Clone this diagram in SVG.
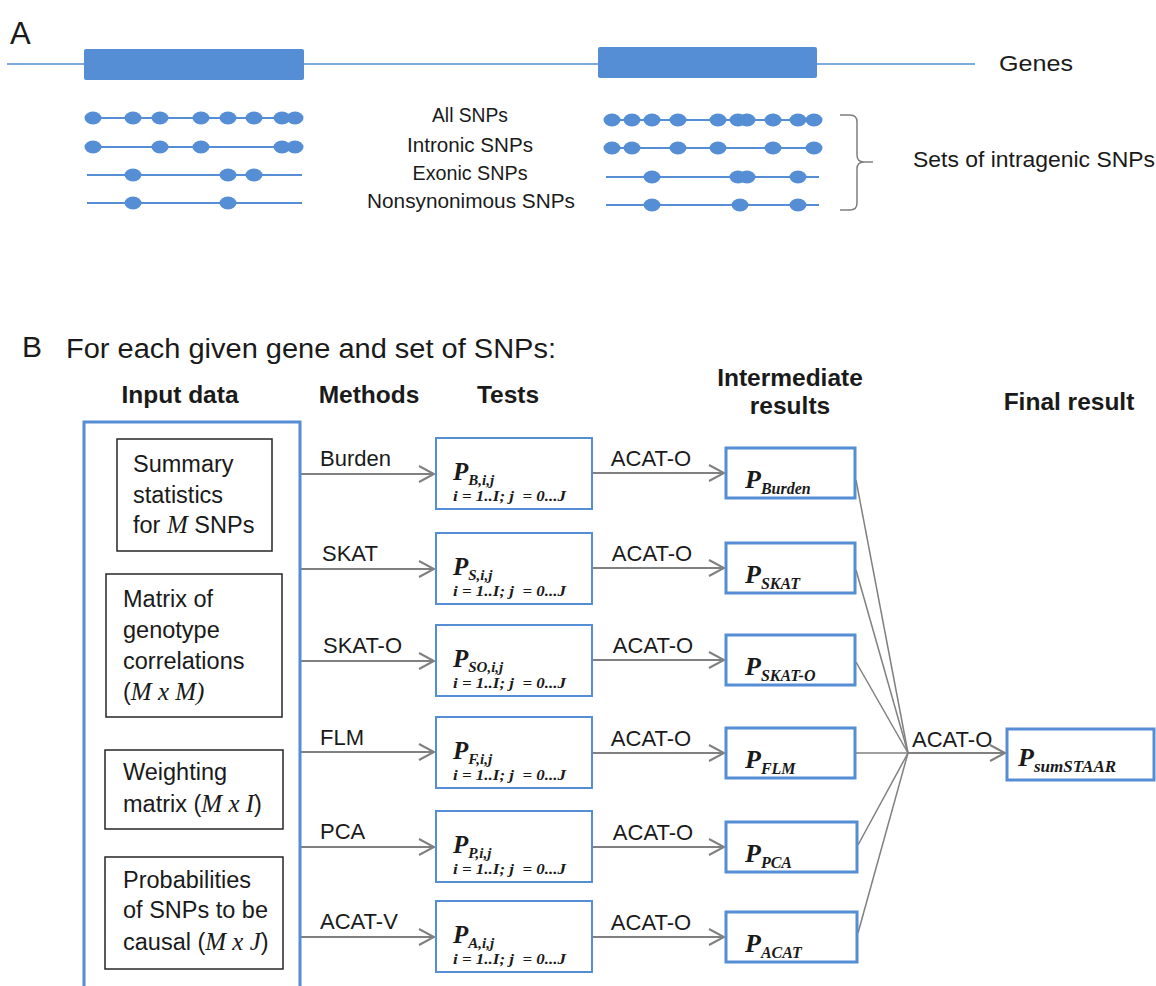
<svg xmlns="http://www.w3.org/2000/svg" width="1156" height="986" viewBox="0 0 1156 986">
<style>
.bg{fill:#ffffff}
.t{font-family:"Liberation Sans",Arial,sans-serif;fill:#1a1a1a}
.h{font-family:"Liberation Sans",Arial,sans-serif;font-weight:bold;fill:#1a1a1a;font-size:24.5px;text-anchor:middle}
.m{font-family:"Liberation Serif","Times New Roman",serif;font-style:italic}
.P{font-family:"Liberation Serif","Times New Roman",serif;font-weight:bold;font-style:italic;fill:#1a1a1a}
.blue{fill:#558ed5}
.snp{stroke:#558ed5;stroke-width:2;fill:none}
.gene{stroke:#558ed5;stroke-width:1.5;fill:none}
.ib{fill:#fff;stroke:#262626;stroke-width:1.5}
.tb{fill:#fff;stroke:#558ed5;stroke-width:2}
.rb{fill:#fff;stroke:#558ed5;stroke-width:3}
.arr{stroke:#808080;stroke-width:2;fill:none;marker-end:url(#ah)}
.cv{stroke:#808080;stroke-width:1.5;fill:none}
.lab{font-family:"Liberation Sans",Arial,sans-serif;fill:#1a1a1a;font-size:22px}
.pre{white-space:pre}
</style>
<defs>
<marker id="ah" markerUnits="userSpaceOnUse" markerWidth="20" markerHeight="20" refX="16" refY="9" orient="auto">
<path d="M1,1 L16,9 L1,17" fill="none" stroke="#808080" stroke-width="2"/>
</marker>
</defs>
<rect class="bg" x="0" y="0" width="1156" height="986"/>

<!-- Panel A -->
<g id="panelA">
<text class="t" x="10" y="44" font-size="31">A</text>
<g id="genes">
<line class="gene" x1="7" y1="64" x2="975" y2="64"/>
<rect class="blue" x="84" y="49" width="220" height="31" rx="2"/>
<rect class="blue" x="598" y="47" width="219" height="31" rx="2"/>
<text class="t" x="999" y="71" font-size="22" textLength="74" lengthAdjust="spacingAndGlyphs">Genes</text>
</g>
<g id="snps-left">
<line class="snp" x1="93" y1="118" x2="295" y2="118"/>
<line class="snp" x1="93" y1="147" x2="295" y2="147"/>
<line class="snp" x1="87" y1="175" x2="302" y2="175"/>
<line class="snp" x1="87" y1="203" x2="302" y2="203"/>
<g class="blue">
<ellipse cx="93" cy="118" rx="8.5" ry="6.5"/><ellipse cx="133" cy="118" rx="8.5" ry="6.5"/><ellipse cx="160" cy="118" rx="8.5" ry="6.5"/><ellipse cx="201" cy="118" rx="8.5" ry="6.5"/><ellipse cx="228" cy="118" rx="8.5" ry="6.5"/><ellipse cx="254" cy="118" rx="8.5" ry="6.5"/><ellipse cx="282" cy="118" rx="8.5" ry="6.5"/><ellipse cx="295" cy="118" rx="8.5" ry="6.5"/>
<ellipse cx="93" cy="147" rx="8.5" ry="6.5"/><ellipse cx="160" cy="147" rx="8.5" ry="6.5"/><ellipse cx="201" cy="147" rx="8.5" ry="6.5"/><ellipse cx="282" cy="147" rx="8.5" ry="6.5"/><ellipse cx="295" cy="147" rx="8.5" ry="6.5"/>
<ellipse cx="133" cy="175" rx="8.5" ry="6.5"/><ellipse cx="228" cy="175" rx="8.5" ry="6.5"/><ellipse cx="254" cy="175" rx="8.5" ry="6.5"/>
<ellipse cx="133" cy="203" rx="8.5" ry="6.5"/><ellipse cx="228" cy="203" rx="8.5" ry="6.5"/>
</g>
</g>
<g id="snp-labels" font-size="20">
<text class="t" x="470" y="122" text-anchor="middle" textLength="76" lengthAdjust="spacingAndGlyphs">All SNPs</text>
<text class="t" x="470" y="152" text-anchor="middle" textLength="126" lengthAdjust="spacingAndGlyphs">Intronic SNPs</text>
<text class="t" x="470" y="180" text-anchor="middle" textLength="115" lengthAdjust="spacingAndGlyphs">Exonic SNPs</text>
<text class="t" x="471" y="208" text-anchor="middle" textLength="208" lengthAdjust="spacingAndGlyphs">Nonsynonimous SNPs</text>
</g>
<g id="snps-right">
<line class="snp" x1="612" y1="120" x2="814" y2="120"/>
<line class="snp" x1="612" y1="148" x2="814" y2="148"/>
<line class="snp" x1="606" y1="177" x2="819" y2="177"/>
<line class="snp" x1="606" y1="205" x2="819" y2="205"/>
<g class="blue">
<ellipse cx="612" cy="120" rx="8.5" ry="6.5"/><ellipse cx="632" cy="120" rx="8.5" ry="6.5"/><ellipse cx="652" cy="120" rx="8.5" ry="6.5"/><ellipse cx="678" cy="120" rx="8.5" ry="6.5"/><ellipse cx="718" cy="120" rx="8.5" ry="6.5"/><ellipse cx="738" cy="120" rx="8.5" ry="6.5"/><ellipse cx="747" cy="120" rx="8.5" ry="6.5"/><ellipse cx="773" cy="120" rx="8.5" ry="6.5"/><ellipse cx="798" cy="120" rx="8.5" ry="6.5"/><ellipse cx="814" cy="120" rx="8.5" ry="6.5"/>
<ellipse cx="612" cy="148" rx="8.5" ry="6.5"/><ellipse cx="632" cy="148" rx="8.5" ry="6.5"/><ellipse cx="678" cy="148" rx="8.5" ry="6.5"/><ellipse cx="718" cy="148" rx="8.5" ry="6.5"/><ellipse cx="773" cy="148" rx="8.5" ry="6.5"/><ellipse cx="814" cy="148" rx="8.5" ry="6.5"/>
<ellipse cx="652" cy="177" rx="8.5" ry="6.5"/><ellipse cx="738" cy="177" rx="8.5" ry="6.5"/><ellipse cx="747" cy="177" rx="8.5" ry="6.5"/><ellipse cx="798" cy="177" rx="8.5" ry="6.5"/>
<ellipse cx="652" cy="205" rx="8.5" ry="6.5"/><ellipse cx="740" cy="205" rx="8.5" ry="6.5"/><ellipse cx="798" cy="205" rx="8.5" ry="6.5"/>
</g>
</g>
<g id="bracket">
<path d="M840,115 H850 Q857,115 857,122 V155 Q857,162 864,162 H873 M864,162 Q857,162 857,169 V203 Q857,210 850,210 H840" fill="none" stroke="#7f7f7f" stroke-width="1.5"/>
<text class="t" x="913" y="167" font-size="22" textLength="242" lengthAdjust="spacingAndGlyphs">Sets of intragenic SNPs</text>
</g>
</g>

<!-- Panel B -->
<g id="panelB-title">
<text class="t" x="22" y="357" font-size="30">B</text>
<text class="t" x="66" y="358" font-size="27" textLength="490" lengthAdjust="spacingAndGlyphs">For each given gene and set of SNPs:</text>
</g>
<g id="headers">
<text class="h" x="180" y="403">Input data</text>
<text class="h" x="369" y="403">Methods</text>
<text class="h" x="508" y="403">Tests</text>
<text class="h" x="790" y="386">Intermediate</text>
<text class="h" x="790" y="414">results</text>
<text class="h" x="1069" y="410">Final result</text>
</g>

<g id="connectors">
<line class="arr" x1="300" y1="474" x2="434" y2="474"/>
<line class="arr" x1="300" y1="569" x2="434" y2="569"/>
<line class="arr" x1="300" y1="661" x2="434" y2="661"/>
<line class="arr" x1="300" y1="752" x2="434" y2="752"/>
<line class="arr" x1="300" y1="847" x2="434" y2="847"/>
<line class="arr" x1="300" y1="937" x2="434" y2="937"/>
<line class="arr" x1="592" y1="473" x2="724" y2="473"/>
<line class="arr" x1="592" y1="568" x2="724" y2="568"/>
<line class="arr" x1="592" y1="660" x2="724" y2="660"/>
<line class="arr" x1="592" y1="753" x2="724" y2="753"/>
<line class="arr" x1="592" y1="847" x2="724" y2="847"/>
<line class="arr" x1="592" y1="937" x2="724" y2="937"/>
<line class="cv" x1="856" y1="480" x2="908" y2="753"/>
<line class="cv" x1="856" y1="570" x2="908" y2="753"/>
<line class="cv" x1="856" y1="662" x2="908" y2="753"/>
<line class="cv" x1="856" y1="753" x2="908" y2="753"/>
<line class="cv" x1="858" y1="845" x2="908" y2="753"/>
<line class="cv" x1="858" y1="933" x2="908" y2="753"/>
<line class="arr" x1="908" y1="753" x2="1005" y2="753"/>
<g class="lab">
<text x="320" y="466">Burden</text>
<text x="322" y="561">SKAT</text>
<text x="323" y="653">SKAT-O</text>
<text x="320" y="745">FLM</text>
<text x="320" y="839">PCA</text>
<text x="320" y="929">ACAT-V</text>
<text x="651" y="466" text-anchor="middle">ACAT-O</text>
<text x="652" y="561" text-anchor="middle">ACAT-O</text>
<text x="653" y="653" text-anchor="middle">ACAT-O</text>
<text x="651" y="746" text-anchor="middle">ACAT-O</text>
<text x="653" y="840" text-anchor="middle">ACAT-O</text>
<text x="651" y="930" text-anchor="middle">ACAT-O</text>
<text x="912" y="747">ACAT-O</text>
</g>
</g>

<g id="input-data">
<path d="M84,990 V422 H300 V990" fill="none" stroke="#558ed5" stroke-width="3"/>
<g id="summary-stats">
<rect class="ib" x="117" y="439" width="155" height="112"/>
<text class="t" font-size="23.5" x="133" y="472">Summary</text>
<text class="t" font-size="23.5" x="133" y="503">statistics</text>
<text class="t" font-size="23.5" x="133" y="533">for <tspan class="m" font-size="25">M</tspan> SNPs</text>
</g>
<g id="genotype-matrix">
<rect class="ib" x="106" y="574" width="176" height="143"/>
<text class="t" font-size="23.5" x="123" y="607">Matrix of</text>
<text class="t" font-size="23.5" x="123" y="638">genotype</text>
<text class="t" font-size="23.5" x="123" y="669">correlations</text>
<text class="t" font-size="23.5" x="123" y="700">(<tspan class="m" font-size="25">M x M)</tspan></text>
</g>
<g id="weighting-matrix">
<rect class="ib" x="105" y="750" width="178" height="79"/>
<text class="t" font-size="23.5" x="123" y="780">Weighting</text>
<text class="t" font-size="23.5" x="123" y="812">matrix (<tspan class="m" font-size="25">M x I</tspan>)</text>
</g>
<g id="causal-probabilities">
<rect class="ib" x="105" y="857" width="178" height="112"/>
<text class="t" font-size="23.5" x="123" y="888">Probabilities</text>
<text class="t" font-size="23.5" x="123" y="918">of SNPs to be</text>
<text class="t" font-size="23.5" x="123" y="950">causal (<tspan class="m" font-size="25">M x J</tspan>)</text>
</g>
</g>

<g id="test-burden">
<rect class="tb" x="436" y="438" width="156" height="71"/>
<text class="P" x="453" y="480" font-size="25">P<tspan font-size="15" dy="5">B,i,j</tspan></text>
<text class="P pre" x="453" y="501" font-size="14" textLength="113" lengthAdjust="spacingAndGlyphs">i = 1..I; j  = 0...J</text>
</g>
<g id="test-skat">
<rect class="tb" x="436" y="533" width="156" height="71"/>
<text class="P" x="453" y="575" font-size="25">P<tspan font-size="15" dy="5">S,i,j</tspan></text>
<text class="P pre" x="453" y="596" font-size="14" textLength="113" lengthAdjust="spacingAndGlyphs">i = 1..I; j  = 0...J</text>
</g>
<g id="test-skato">
<rect class="tb" x="436" y="625" width="156" height="71"/>
<text class="P" x="453" y="667" font-size="25">P<tspan font-size="15" dy="5">SO,i,j</tspan></text>
<text class="P pre" x="453" y="688" font-size="14" textLength="113" lengthAdjust="spacingAndGlyphs">i = 1..I; j  = 0...J</text>
</g>
<g id="test-flm">
<rect class="tb" x="436" y="717" width="156" height="71"/>
<text class="P" x="453" y="759" font-size="25">P<tspan font-size="15" dy="5">F,i,j</tspan></text>
<text class="P pre" x="453" y="780" font-size="14" textLength="113" lengthAdjust="spacingAndGlyphs">i = 1..I; j  = 0...J</text>
</g>
<g id="test-pca">
<rect class="tb" x="436" y="811" width="156" height="71"/>
<text class="P" x="453" y="853" font-size="25">P<tspan font-size="15" dy="5">P,i,j</tspan></text>
<text class="P pre" x="453" y="874" font-size="14" textLength="113" lengthAdjust="spacingAndGlyphs">i = 1..I; j  = 0...J</text>
</g>
<g id="test-acat">
<rect class="tb" x="436" y="901" width="156" height="71"/>
<text class="P" x="453" y="943" font-size="25">P<tspan font-size="15" dy="5">A,i,j</tspan></text>
<text class="P pre" x="453" y="964" font-size="14" textLength="113" lengthAdjust="spacingAndGlyphs">i = 1..I; j  = 0...J</text>
</g>

<g id="res-burden">
<rect class="rb" x="726" y="448" width="129" height="50"/>
<text class="P" x="745" y="488" font-size="26">P<tspan font-size="16" dy="6">Burden</tspan></text>
</g>
<g id="res-skat">
<rect class="rb" x="726" y="543" width="129" height="50"/>
<text class="P" x="745" y="583" font-size="26">P<tspan font-size="16" dy="6">SKAT</tspan></text>
</g>
<g id="res-skato">
<rect class="rb" x="726" y="635" width="129" height="50"/>
<text class="P" x="745" y="675" font-size="26">P<tspan font-size="16" dy="6">SKAT-O</tspan></text>
</g>
<g id="res-flm">
<rect class="rb" x="726" y="728" width="129" height="50"/>
<text class="P" x="745" y="768" font-size="26">P<tspan font-size="16" dy="6">FLM</tspan></text>
</g>
<g id="res-pca">
<rect class="rb" x="726" y="822" width="131" height="50"/>
<text class="P" x="745" y="862" font-size="26">P<tspan font-size="16" dy="6">PCA</tspan></text>
</g>
<g id="res-acat">
<rect class="rb" x="726" y="912" width="131" height="50"/>
<text class="P" x="745" y="952" font-size="26">P<tspan font-size="16" dy="6">ACAT</tspan></text>
</g>

<g id="final-result">
<rect class="rb" x="1007" y="729" width="147" height="51"/>
<text class="P" x="1018" y="766" font-size="26">P<tspan font-size="17" dy="6">sumSTAAR</tspan></text>
</g>
</svg>
